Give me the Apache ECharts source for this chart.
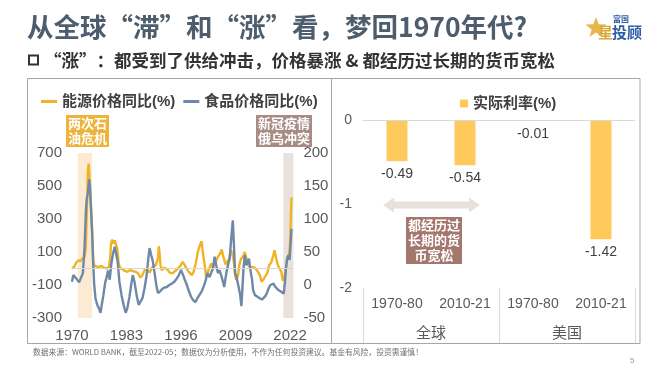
<!DOCTYPE html>
<html><head><meta charset="utf-8">
<script src="https://cdn.jsdelivr.net/npm/echarts@6/dist/echarts.min.js"></script>
<style>html,body{margin:0;padding:0;background:#fff;}#c{width:669px;height:370px;}</style>
</head><body><div id="c"></div>
<script>
// ---- data ----
const yearTicks = [1970, 1983, 1996, 2009, 2022];
const energyData = [
 [1970.0,0],[1970.5,10],[1971.0,35],[1971.5,50],[1972.0,45],[1972.5,60],[1973.0,70],[1973.3,130],
 [1973.6,400],[1973.8,600],[1974.0,635],[1974.15,560],[1974.3,450],[1974.5,390],[1974.7,300],[1974.9,160],
 [1975.1,40],[1975.4,15],[1975.8,20],[1976.3,10],[1977.0,15],[1977.6,5],[1978.3,0],[1978.8,10],
 [1979.1,60],[1979.3,150],[1979.6,175],[1979.9,150],[1980.2,170],[1980.5,160],[1980.8,120],[1981.1,40],
 [1981.4,5],[1982.0,-5],[1982.6,-15],[1983.2,-20],[1983.8,-10],[1984.5,-15],[1985.2,-20],[1985.8,-30],
 [1986.3,-55],[1986.8,-40],[1987.3,-10],[1987.9,-5],[1988.5,-25],[1989.2,10],[1990.0,20],[1990.5,60],
 [1990.7,135],[1990.9,90],[1991.1,20],[1991.4,-10],[1992.0,5],[1992.7,-5],[1993.3,-25],[1994.0,-30],
 [1994.6,-15],[1995.3,0],[1995.8,15],[1996.4,40],[1996.9,20],[1997.4,-5],[1998.0,-25],[1998.6,-40],
 [1999.0,-20],[1999.5,30],[2000.0,100],[2000.5,140],[2000.9,165],[2001.3,80],[2001.7,10],[2002.0,-50],
 [2002.4,-45],[2002.8,5],[2003.2,30],[2003.6,5],[2004.0,20],[2004.5,55],[2004.9,75],[2005.4,95],
 [2005.7,115],[2006.1,70],[2006.6,25],[2007.0,40],[2007.5,60],[2007.9,110],[2008.3,85],[2008.6,40],
 [2008.9,-40],[2009.2,-70],[2009.6,-40],[2009.9,20],[2010.3,60],[2010.8,70],[2011.2,100],[2011.6,90],
 [2012.0,25],[2012.5,5],[2013.0,10],[2013.6,5],[2014.2,-15],[2014.8,-40],[2015.2,-80],[2015.7,-65],
 [2016.1,-75],[2016.6,-25],[2017.0,20],[2017.5,35],[2018.0,80],[2018.3,110],[2018.7,60],[2019.1,20],
 [2019.5,15],[2019.9,-20],[2020.3,-75],[2020.6,-60],[2020.9,-20],[2021.2,40],[2021.5,70],[2021.8,90],
 [2022.0,150],[2022.15,270],[2022.35,430]
];
const foodData = [
 [1970.0,5],[1970.3,15],[1970.6,18],[1971.0,10],[1971.3,8],[1971.7,4],[1972.1,5],[1972.6,18],
 [1973.0,58],[1973.3,110],[1973.5,130],[1973.8,140],[1974.1,160],[1974.3,150],[1974.5,120],[1974.8,80],
 [1975.0,40],[1975.3,0],[1975.6,-20],[1976.0,-30],[1976.4,-35],[1976.8,-42],[1977.1,-30],[1977.5,-15],
 [1977.9,3],[1978.3,13],[1978.6,22],[1979.0,8],[1979.4,33],[1979.8,48],[1980.2,58],[1980.6,45],
 [1980.9,35],[1981.3,5],[1981.8,-15],[1982.3,-30],[1982.8,-42],[1983.2,-35],[1983.7,-18],[1984.1,0],
 [1984.5,15],[1984.9,5],[1985.4,-15],[1985.9,-30],[1986.3,-33],[1986.8,-20],[1987.3,-5],[1987.8,15],
 [1988.2,40],[1988.5,56],[1988.9,45],[1989.3,35],[1989.7,18],[1990.1,0],[1990.5,-12],[1991.0,-10],
 [1991.5,-6],[1992.0,-4],[1992.6,-3],[1993.2,0],[1993.8,2],[1994.4,5],[1995.0,10],[1995.5,15],
 [1996.0,23],[1996.5,15],[1996.9,8],[1997.4,0],[1997.8,-8],[1998.4,-18],[1998.9,-23],[1999.4,-26],
 [1999.9,-20],[2000.4,-15],[2000.9,-10],[2001.4,-2],[2001.8,5],[2002.3,18],[2002.8,12],[2003.2,13],
 [2003.6,25],[2004.0,43],[2004.4,30],[2004.8,18],[2005.2,22],[2005.6,14],[2006.0,5],[2006.3,-3],
 [2006.8,18],[2007.2,30],[2007.6,40],[2008.0,73],[2008.35,98],[2008.6,63],[2008.9,18],[2009.2,13],
 [2009.5,10],[2009.8,-5],[2010.1,-15],[2010.4,-32],[2010.6,-10],[2010.9,25],[2011.2,45],[2011.6,30],
 [2011.9,28],[2012.2,40],[2012.6,20],[2012.9,10],[2013.2,-8],[2013.6,-15],[2014.0,-18],[2014.5,-19],
 [2014.9,-21],[2015.3,-22],[2015.7,-23],[2016.1,-17],[2016.5,-12],[2016.9,-5],[2017.3,0],[2017.7,3],
 [2018.1,2],[2018.5,-3],[2018.9,-6],[2019.3,-8],[2019.8,-10],[2020.2,-12],[2020.5,-13],[2020.8,5],
 [2021.0,23],[2021.3,40],[2021.6,45],[2021.9,38],[2022.1,60],[2022.35,85]
];
const crisisBands = [[1971.4, 1974.8], [2020.4, 2022.8]];
const periods = ['1970-80', '2010-21', '1970-80', '2010-21'];
const regions = ['全球', '美国'];
const realRates = [-0.49, -0.54, -0.01, -1.42];

// ---- chart ----
const F = "'Liberation Sans','Noto Sans CJK SC',sans-serif";
const CJK = "'Noto Sans CJK SC','Liberation Sans',sans-serif";
const chart = echarts.init(document.getElementById('c'), null, {renderer: 'canvas'});

function star(cx, cy, R, r) {
  const p = [];
  for (let i = 0; i < 10; i++) {
    const a = -Math.PI / 2 + i * Math.PI / 5;
    const rr = i % 2 ? r : R;
    p.push([cx + rr * Math.cos(a), cy + rr * Math.sin(a)]);
  }
  return p;
}

const option = {
  animation: false,
  backgroundColor: '#fff',
  textStyle: {fontFamily: F},
  grid: [
    {left: 72, top: 153, width: 221.4, height: 165},
    {left: 363, top: 120, width: 272, height: 168}
  ],
  legend: [
    {data: ['能源价格同比(%)', '食品价格同比(%)'], left: 36, top: 89, icon: 'rect',
     itemWidth: 16, itemHeight: 3, itemGap: 8,
     textStyle: {fontSize: 15, fontWeight: 'bold', color: '#404040', fontFamily: F}},
    {data: ['实际利率(%)'], left: 455, top: 91, icon: 'rect', itemWidth: 8, itemHeight: 8,
     textStyle: {fontSize: 15, fontWeight: 'bold', color: '#404040', fontFamily: F}}
  ],
  xAxis: [
    {gridIndex: 0, type: 'value', min: 1970, max: 2022.8, interval: 13,
     axisLine: {show: false}, axisTick: {show: false}, splitLine: {show: false},
     axisLabel: {fontSize: 15, color: '#595959', margin: 10,
       formatter: v => yearTicks.indexOf(Math.round(v * 10) / 10) >= 0 ? String(Math.round(v)) : ''}},
    {gridIndex: 1, type: 'category', data: periods,
     axisLine: {show: false}, axisTick: {show: false},
     axisLabel: {fontSize: 14, color: '#595959', margin: 9}},
    {gridIndex: 1, type: 'category', data: regions, position: 'bottom',
     axisLine: {show: false},
     axisTick: {show: true, length: 55, lineStyle: {color: '#D9D9D9'}},
     axisLabel: {fontSize: 15, color: '#595959', margin: 37, fontFamily: CJK}}
  ],
  yAxis: [
    {gridIndex: 0, type: 'value', min: -300, max: 700, interval: 200, position: 'left',
     axisLine: {show: false}, axisTick: {show: false}, splitLine: {show: false},
     axisLabel: {fontSize: 15, color: '#595959', margin: 10}},
    {gridIndex: 0, type: 'value', min: -50, max: 200, interval: 50, position: 'right',
     axisLine: {show: false}, axisTick: {show: false}, splitLine: {show: false},
     axisLabel: {fontSize: 15, color: '#595959', margin: 10}},
    {gridIndex: 1, type: 'value', min: -2, max: 0, interval: 1,
     axisLine: {show: false}, axisTick: {show: false}, splitLine: {show: false},
     axisLabel: {fontSize: 14, color: '#595959', margin: 11}}
  ],
  series: [
    {type: 'line', name: 'bands', xAxisIndex: 0, yAxisIndex: 0, data: [], z: 1, silent: true,
     markArea: {silent: true, data: [
       [{xAxis: crisisBands[0][0], itemStyle: {color: '#FCEBD2'}}, {xAxis: crisisBands[0][1]}],
       [{xAxis: crisisBands[1][0], itemStyle: {color: '#EAE1DC'}}, {xAxis: crisisBands[1][1]}]
     ]},
     markLine: {silent: true, symbol: 'none', label: {show: false},
       lineStyle: {color: '#D6D6D6', width: 1, type: 'solid'}, data: [{yAxis: 0}]}},
    {type: 'line', name: '能源价格同比(%)', xAxisIndex: 0, yAxisIndex: 0, data: energyData,
     showSymbol: false, symbol: 'none', z: 3,
     lineStyle: {color: '#F0B323', width: 2.4}, itemStyle: {color: '#F0B323'}},
    {type: 'line', name: '食品价格同比(%)', xAxisIndex: 0, yAxisIndex: 1, data: foodData,
     showSymbol: false, symbol: 'none', z: 4,
     lineStyle: {color: '#7088A8', width: 2.4}, itemStyle: {color: '#7088A8'}},
    {type: 'bar', name: '实际利率(%)', xAxisIndex: 1, yAxisIndex: 2, data: realRates, barWidth: 21,
     itemStyle: {color: '#FFCA5C'},
     label: {show: true, position: 'bottom', distance: 6, fontSize: 14, color: '#404040',
       formatter: p => p.value.toFixed(2)},
     markLine: {silent: true, symbol: 'none', label: {show: false},
       lineStyle: {color: '#D9D9D9', width: 1, type: 'solid'}, data: [{yAxis: 0}]}}
  ],
  graphic: [
    // panel borders
    {type: 'rect', shape: {x: 27.5, y: 78.5, width: 304, height: 265}, style: {fill: 'none', stroke: '#A6A6A6', lineWidth: 1}, silent: true},
    {type: 'rect', shape: {x: 331.5, y: 78.5, width: 308.5, height: 265}, style: {fill: 'none', stroke: '#A6A6A6', lineWidth: 1}, silent: true},
    // title
    {type: 'text', x: 27, y: 27, style: {text: '从全球“滞”和“涨”看，梦回1970年代?', fontSize: 26.5, fontWeight: 'bold',
      fill: '#4E5D6D', fontFamily: CJK, verticalAlign: 'middle'}},
    // subtitle
    {type: 'rect', shape: {x: 29, y: 55.5, width: 9, height: 9}, style: {fill: 'none', stroke: '#333', lineWidth: 2}},
    {type: 'text', x: 44, y: 60.5, style: {text: '“涨”：都受到了供给冲击，价格暴涨 & 都经历过长期的货币宽松', fontSize: 17.5, fontWeight: 'bold',
      fill: '#333333', fontFamily: CJK, verticalAlign: 'middle'}},
    // logo
    {type: 'polygon', shape: {points: star(596, 28, 11, 4.6)}, style: {fill: '#E8B64A'}},
    {type: 'text', x: 613, y: 19, style: {text: '富国', fontSize: 8, fontWeight: 'bold', fill: '#2F5EA5', fontFamily: CJK, verticalAlign: 'middle'}},
    {type: 'text', x: 598, y: 32, style: {text: '星', fontSize: 15, fontWeight: 'bold', fill: '#D9A63A', fontFamily: CJK, verticalAlign: 'middle'}},
    {type: 'text', x: 612, y: 32, style: {text: '投顾', fontSize: 15, fontWeight: 'bold', fill: '#2F5EA5', fontFamily: CJK, verticalAlign: 'middle'}},
    // annotations (left)
    {type: 'text', x: 66, y: 115, z: 10, style: {text: '两次石\n油危机', fontSize: 13, fontWeight: 'bold', fill: '#fff',
      lineHeight: 15, backgroundColor: '#EDB33B', padding: [1, 2, 1, 2], fontFamily: CJK}},
    {type: 'text', x: 256, y: 115, z: 10, style: {text: '新冠疫情\n俄乌冲突', fontSize: 13, fontWeight: 'bold', fill: '#fff',
      lineHeight: 15, backgroundColor: '#A88C84', padding: [1, 2, 1, 2], fontFamily: CJK}},
    // arrow + annotation (right)
    {type: 'polygon', shape: {points: [[383, 205], [394, 197.5], [394, 201.5], [469, 201.5], [469, 197.5], [480, 205],
      [469, 212.5], [469, 208.5], [394, 208.5], [394, 212.5]]}, style: {fill: '#E9DFDB'}},
    {type: 'text', x: 434, y: 217, z: 10, style: {text: '都经历过\n长期的货\n币宽松', fontSize: 13, fontWeight: 'bold', fill: '#fff',
      lineHeight: 15, backgroundColor: '#A3776C', padding: [1, 2, 1, 2], align: 'center', width: 52, fontFamily: CJK}},
    // footer
    {type: 'text', x: 33, y: 352, style: {text: '数据来源：WORLD BANK，截至2022-05；数据仅为分析使用，不作为任何投资建议。基金有风险，投资需谨慎！',
      fontSize: 7.8, fill: '#707070', fontFamily: CJK, verticalAlign: 'middle'}},
    {type: 'text', x: 630, y: 361, style: {text: '5', fontSize: 8, fill: '#999', verticalAlign: 'middle'}}
  ]
};
chart.setOption(option);
</script>
</body></html>
